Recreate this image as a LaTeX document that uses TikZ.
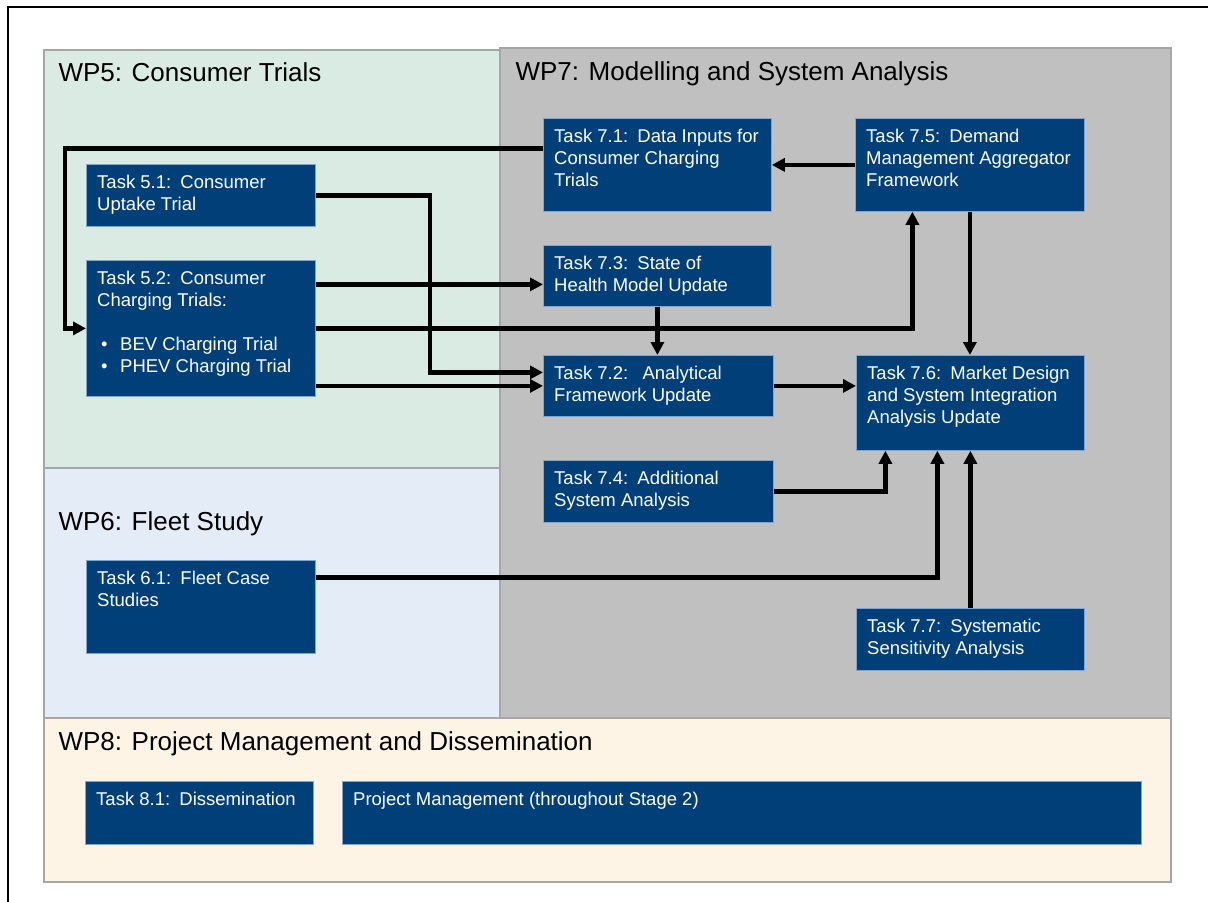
\documentclass[tikz,border=0pt]{standalone}
\usepackage{fontspec}
\setmainfont{Liberation Sans}
\usetikzlibrary{arrows.meta, positioning}
\definecolor{taskblue}{HTML}{003F77}
\definecolor{taskrim}{HTML}{7FA6CF}
\definecolor{wpfive}{HTML}{DAEBE3}
\definecolor{wpsix}{HTML}{E4ECF7}
\definecolor{wpseven}{HTML}{C0C0C0}
\definecolor{wpeight}{HTML}{FDF4E6}
\definecolor{wprim}{HTML}{A6A6A6}
\newcommand{\tnum}[1]{Task #1:\enspace}
\newcommand{\bul}{\hspace*{4pt}\makebox[19pt][l]{\textbullet}}

\begin{document}
\begin{tikzpicture}[
    x = 1pt, y = -1pt,
    punkt/.style = {rectangle, fill=taskblue, draw=taskrim, line width=0.8pt,
                    anchor=north west, inner sep=0pt},
    tekst/.style = {anchor=north west, text=white, align=left,
                    inner xsep=11pt, inner ysep=10.5pt,
                    font=\fontsize{18.5}{22}\selectfont},
    pakke/.style = {draw=wprim, line width=1.2pt},
    tittel/.style = {anchor=base west, font=\fontsize{26}{30}\selectfont},
    pil/.style = {black, line width=4.5pt, -{Triangle[length=13pt, width=13pt]}}
    ]

  \useasboundingbox (0,0) rectangle (1208,902);
  \draw[line width=2pt] (8,902) -- (8,7) -- (1208,7);

  % work packages
  \draw[pakke, fill=wpfive] (44,50) rectangle (500,468);
  \draw[pakke, fill=wpsix] (44,468) rectangle (500,718);
  \draw[pakke, fill=wpseven] (500,48) rectangle (1171,718);
  \draw[pakke, fill=wpeight] (44,718) rectangle (1171,882);

  \node[tittel] (wp5) at (55,81) {WP5: Consumer Trials};
  \node[tittel] (wp7) at (512,80) {WP7: Modelling and System Analysis};
  \node[tittel] (wp6) at (55,530) {WP6: Fleet Study};
  \node[tittel] (wp8) at (55,750) {WP8: Project Management and Dissemination};

  % tasks
  \node[punkt, minimum width=229pt, minimum height=62pt,
    label={[tekst]north west:{\tnum{5.1}Consumer\\Uptake Trial}}] (t51) at (86,164) {};
  \node[punkt, minimum width=229pt, minimum height=136pt,
    label={[tekst]north west:{\tnum{5.2}Consumer\\Charging Trials:\\[22pt]\bul BEV Charging Trial\\\bul PHEV Charging Trial}}] (t52) at (86,260) {};
  \node[punkt, minimum width=229pt, minimum height=93pt,
    label={[tekst]north west:{\tnum{6.1}Fleet Case\\Studies}}] (t61) at (86,560) {};

  \node[punkt, minimum width=228pt, minimum height=93pt,
    label={[tekst]north west:{\tnum{7.1}Data Inputs for\\Consumer Charging\\Trials}}] (t71) at (543,118) {};
  \node[punkt, minimum width=228pt, minimum height=61pt,
    label={[tekst]north west:{\tnum{7.3}State of\\Health Model Update}}] (t73) at (543,245) {};
  \node[punkt, minimum width=230pt, minimum height=61pt,
    label={[tekst]north west:{\tnum{7.2}\ Analytical\\Framework Update}}] (t72) at (543,355) {};
  \node[punkt, minimum width=230pt, minimum height=62pt,
    label={[tekst]north west:{\tnum{7.4}Additional\\System Analysis}}] (t74) at (543,460) {};

  \node[punkt, minimum width=229pt, minimum height=93pt,
    label={[tekst]north west:{\tnum{7.5}Demand\\Management Aggregator\\Framework}}] (t75) at (855,118) {};
  \node[punkt, minimum width=228pt, minimum height=95pt,
    label={[tekst]north west:{\tnum{7.6}Market Design\\and System Integration\\Analysis Update}}] (t76) at (856,355) {};
  \node[punkt, minimum width=228pt, minimum height=62pt,
    label={[tekst]north west:{\tnum{7.7}Systematic\\Sensitivity Analysis}}] (t77) at (856,608) {};

  \node[punkt, minimum width=228pt, minimum height=63pt,
    label={[tekst]north west:{\tnum{8.1}Dissemination}}] (t81) at (85,781) {};
  \node[punkt, minimum width=799pt, minimum height=63pt,
    label={[tekst]north west:{Project Management (throughout Stage 2)}}] (pm) at (342,781) {};

  % links
  \draw[pil] ([yshift=16.5pt]t71.west) -| ([xshift=-21pt]t52.west) -- (t52.west);
  \draw[pil] (t51.east) -- ++(114,0) |- ([yshift=13.5pt]t72.west);
  \draw[pil] ([yshift=44pt]t52.east) -- ([yshift=-8.5pt]t73.west);
  \draw[pil] (t52.east) -| ([xshift=-57.5pt]t75.south);
  \draw[pil] ([yshift=-57.5pt]t52.east) -- (t72.west);
  \draw[pil] (t75.west) -- (t71.east);
  \draw[pil] (t73.south) -- (t73.south |- t72.north);
  \draw[pil] (t75.south) -- (t75.south |- t76.north);
  \draw[pil] (t72.east) -- (t72.east -| t76.west);
  \draw[pil] (t74.east) -| ([xshift=-85pt]t76.south);
  \draw[pil] ([yshift=29.5pt]t61.east) -| ([xshift=-33pt]t76.south);
  \draw[pil] (t77.north) -- (t77.north |- t76.south);
\end{tikzpicture}
\end{document}
